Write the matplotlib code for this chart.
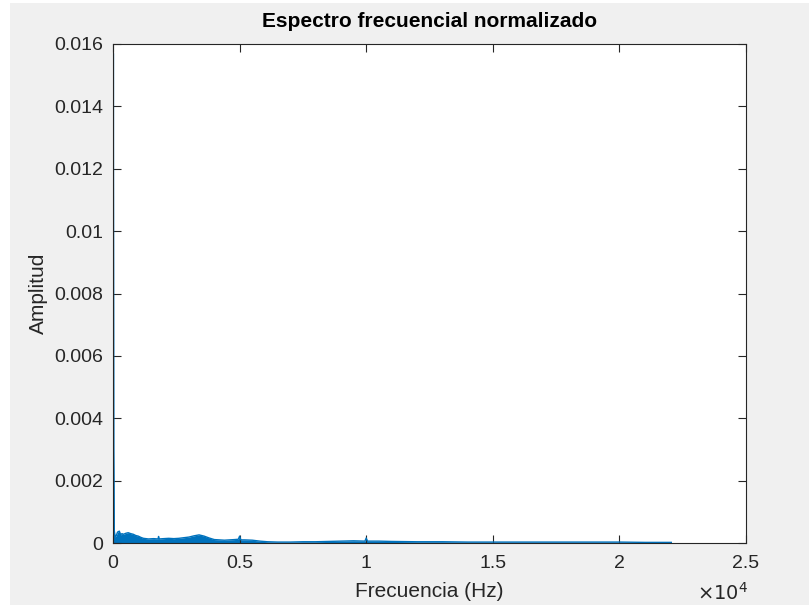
import matplotlib
matplotlib.use('Agg')
import matplotlib.pyplot as plt
from matplotlib.patches import Rectangle
from matplotlib.ticker import FuncFormatter

plt.rcParams['font.family'] = ['Liberation Sans', 'DejaVu Sans']

# espectro (envolvente aproximada)
freq_hz = [0, 15, 30, 50, 80, 120, 180, 250, 300, 350, 420, 500, 600, 700,
           800, 900, 1000, 1100, 1200, 1400, 1600, 1780, 1800, 1820, 2000,
           2200, 2400, 2600, 2800, 3000, 3200, 3400, 3600, 3800, 4000, 4200,
           4400, 4600, 4800, 4950, 5000, 5050, 5200, 5500, 5800, 6100, 6500,
           7000, 7500, 8000, 8500, 9000, 9500, 9950, 10000, 10050, 10500,
           11000, 12000, 13000, 14000, 15000, 16000, 17000, 18000, 19000,
           20000, 21000, 22050]
amplitud = [0.0003, 0.0157, 0.003, 0.0004, 0.0002, 0.00022, 0.00035, 0.00038,
            0.00026, 0.00030, 0.00028, 0.00031, 0.00033, 0.00030, 0.00028,
            0.00024, 0.00022, 0.00018, 0.00015, 0.00013, 0.00014, 0.00013,
            0.00021, 0.00013, 0.00014, 0.00015, 0.00014, 0.00015, 0.00017,
            0.00019, 0.00023, 0.00026, 0.00022, 0.00016, 0.00011, 0.00010,
            0.00009, 0.00010, 0.00011, 0.00012, 0.00022, 0.00010, 0.00010,
            0.00009, 0.00006, 0.00004, 0.00003, 0.00003, 0.00004, 0.00004,
            0.00005, 0.00006, 0.00007, 0.00006, 0.00016, 0.00006, 0.00006,
            0.00005, 0.00004, 0.00004, 0.00003, 0.00003, 0.00003, 0.00003,
            0.00003, 0.00003, 0.00003, 0.00002, 0.00002]

yticks = [0, 0.002, 0.004, 0.006, 0.008, 0.01, 0.012, 0.014, 0.016]
xticks = [0, 5000, 10000, 15000, 20000, 25000]

azul = '#0072BD'
gris = '#262626'

fig = plt.figure(figsize=(8.09, 6.05), dpi=100, facecolor='white')
# fondo gris tipo matlab (con borde blanco arriba/izquierda)
fig.patches.append(Rectangle((10 / 809, 0), 1, 1 - 3 / 605, transform=fig.transFigure,
                             facecolor='#f0f0f0', edgecolor='none', zorder=-10))

ax = fig.add_axes([113 / 809, 1 - 543 / 605, 633 / 809, 499 / 605])
ax.fill_between(freq_hz, amplitud, 0, color=azul, linewidth=0)
ax.plot(freq_hz, amplitud, color=azul, linewidth=1)

ax.set_xlim(0, 25000)
ax.set_ylim(0, 0.016)
ax.set_xticks(xticks)
ax.set_yticks(yticks)
ax.yaxis.set_major_formatter(FuncFormatter(lambda v, p: '%g' % v))
ax.xaxis.set_major_formatter(FuncFormatter(lambda v, p: '%g' % (v / 1e4)))

ax.tick_params(direction='in', top=True, right=True, length=6, width=0.8,
               colors=gris, labelsize=14)
ax.tick_params(axis='x', pad=9)
ax.tick_params(axis='y', pad=7)
for s in ax.spines.values():
    s.set_color(gris)
    s.set_linewidth(0.8)

# el x10^4 de matlab
ax.text(1.004, -0.1, r'$\times10^{4}$', transform=ax.transAxes, ha='right',
        va='center', fontsize=14, color=gris)

ax.set_title('Espectro frecuencial normalizado', fontsize=15, fontweight='bold',
             color='black', y=1.028, va='center')
ax.set_xlabel('Frecuencia (Hz)', fontsize=15, color=gris)
ax.set_ylabel('Amplitud', fontsize=15, color=gris)
ax.xaxis.set_label_coords(0.5, -0.098)
ax.yaxis.set_label_coords(-0.118, 0.5)
ax.xaxis.label.set_va('center')
ax.yaxis.label.set_va('center')

fig.savefig('out.png', dpi=100, facecolor=fig.get_facecolor())
